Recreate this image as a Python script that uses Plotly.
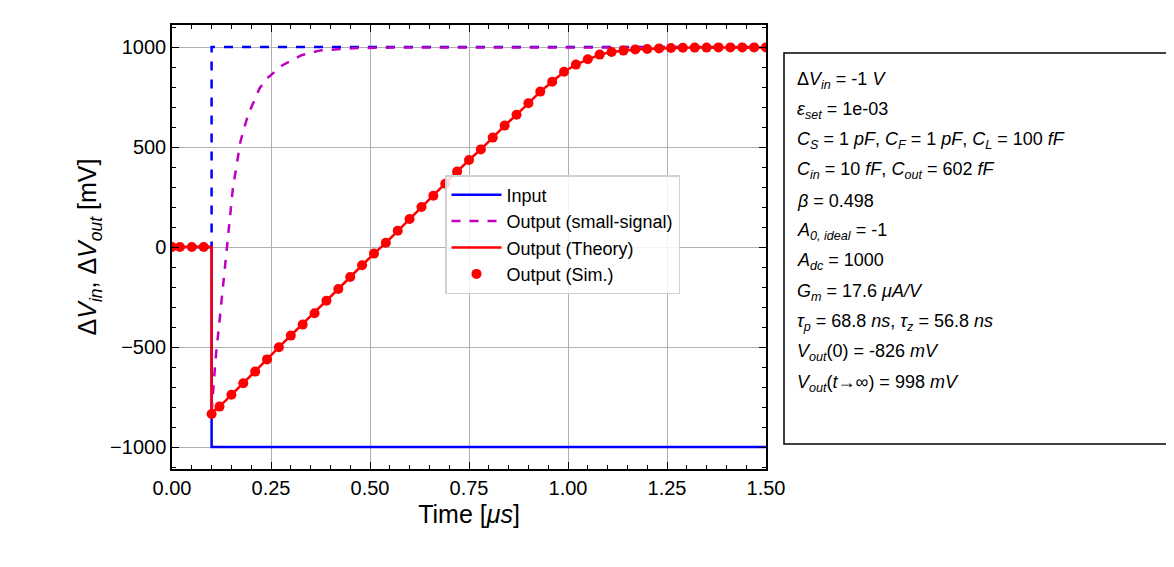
import plotly.graph_objects as go

W, H = 1174, 567

# input step
t_in = [0.0, 0.1, 0.1, 1.5]
v_in = [0, 0, -1000, -1000]
v_in_ideal = [0, 0, 1000, 1000]

# small-signal response
t_ss = [0.1, 0.105, 0.11, 0.12, 0.135, 0.154, 0.173, 0.192, 0.221, 0.24, 0.279, 0.327, 0.375, 0.47, 0.6, 0.8, 1.0, 1.5]
v_ss = [-826, -690, -560, -370, -60, 298, 529, 661, 793, 843, 909, 959, 983, 995, 998, 998, 998, 998]

# simulated points
t_sim = [0.0, 0.02, 0.05, 0.08, 0.1] + [round(0.12 + 0.03 * k, 2) for k in range(47)]
v_sim = [0, 0, 0, 0, -835, -798, -739, -681, -623, -562, -501, -443, -388, -331, -269,
         -210, -150, -91, -33, 21, 81, 140, 200, 256, 316, 377, 435, 488, 547, 607,
         661, 719, 777, 826, 876, 912, 939, 962, 975, 982, 988, 990, 993, 995, 996,
         997, 997, 998, 998, 998, 998, 998]

# theory curve
t_th = [0.0, 0.1] + t_sim[4:]
v_th = [0, 0] + [-826] + v_sim[5:]

info_lines = [
    "Δ<i>V<sub>in</sub></i> = -1 <i>V</i>",
    "<i>ε<sub>set</sub></i> = 1e-03",
    "<i>C<sub>S</sub></i> = 1 <i>pF</i>, <i>C<sub>F</sub></i> = 1 <i>pF</i>, <i>C<sub>L</sub></i> = 100 <i>fF</i>",
    "<i>C<sub>in</sub></i> = 10 <i>fF</i>, <i>C<sub>out</sub></i> = 602 <i>fF</i>",
    "<i>β</i> = 0.498",
    "<i>A<sub>0, ideal</sub></i> = -1",
    "<i>A<sub>dc</sub></i> = 1000",
    "<i>G<sub>m</sub></i> = 17.6 <i>μA/V</i>",
    "<i>τ<sub>p</sub></i> = 68.8 <i>ns</i>, <i>τ<sub>z</sub></i> = 56.8 <i>ns</i>",
    "<i>V<sub>out</sub></i>(0) = -826 <i>mV</i>",
    "<i>V<sub>out</sub></i>(<i>t</i>→∞) = 998 <i>mV</i>",
]

fig = go.Figure()
fig.add_trace(go.Scatter(x=t_in, y=v_in_ideal, mode="lines", showlegend=False,
                         line=dict(color="#0000ff", width=2.5, dash="dash")))
fig.add_trace(go.Scatter(x=t_in, y=v_in, mode="lines", name="Input",
                         line=dict(color="#0000ff", width=2.5)))
fig.add_trace(go.Scatter(x=t_ss, y=v_ss, mode="lines", name="Output (small-signal)",
                         line=dict(color="#bf00bf", width=2.5, dash="dash")))
fig.add_trace(go.Scatter(x=t_th, y=v_th, mode="lines", name="Output (Theory)",
                         line=dict(color="#ff0000", width=2.5)))
fig.add_trace(go.Scatter(x=t_sim, y=v_sim, mode="markers", name="Output (Sim.)",
                         marker=dict(color="#ff0000", size=10)))

ax = dict(showline=True, linecolor="black", linewidth=1.5, mirror="ticks",
          ticks="inside", ticklen=7, tickwidth=1.2, tickcolor="black",
          showgrid=True, gridcolor="#b0b0b0", gridwidth=1, zeroline=False,
          automargin=False,
          tickfont=dict(size=20, color="black"),
          minor=dict(ticks="inside", ticklen=4, tickcolor="black", showgrid=False))

fig.update_layout(
    width=W, height=H,
    margin=dict(l=0, r=0, t=0, b=0, autoexpand=False),
    paper_bgcolor="white", plot_bgcolor="white",
    font=dict(family="Liberation Sans, Arial, sans-serif", color="black"),
    xaxis=dict(**ax, domain=[164 / W, 758 / W], range=[0, 1.5],
               tickvals=[0, 0.25, 0.5, 0.75, 1.0, 1.25, 1.5],
               ticktext=["0.00", "0.25", "0.50", "0.75", "1.00", "1.25", "1.50"],
               title=dict(text="Time [<i>μs</i>]", font=dict(size=25), standoff=8)),
    yaxis=dict(**ax, domain=[1 - 461 / H, 1 - 17 / H], range=[-1110, 1110],
               tickvals=[-1000, -500, 0, 500, 1000],
               ticktext=["−1000", "−500", "0", "500", "1000"],
               title=dict(text="Δ<i>V<sub>in</sub></i>, Δ<i>V<sub>out</sub></i> [mV]",
                          font=dict(size=25), standoff=6)),
    legend=dict(x=437 / W, y=1 - 167 / H, xanchor="left", yanchor="top",
                bgcolor="rgba(255,255,255,0.85)", bordercolor="#d0d0d0", borderwidth=1.5,
                font=dict(size=18), tracegroupgap=0, itemwidth=50),
)
fig.update_xaxes(minor=dict(dtick=0.05))
fig.update_yaxes(minor=dict(dtick=100))

fig.add_shape(type="rect", xref="paper", yref="paper",
              x0=776 / W, x1=1169 / W, y0=1 - 436 / H, y1=1 - 45 / H,
              line=dict(color="black", width=1.5))
for i, txt in enumerate(info_lines):
    fig.add_annotation(xref="paper", yref="paper", x=787 / W, y=1 - (72 + 30.3 * i) / H,
                       xanchor="left", yanchor="middle", text=txt, showarrow=False,
                       font=dict(size=18))

fig.write_html("out.html")
